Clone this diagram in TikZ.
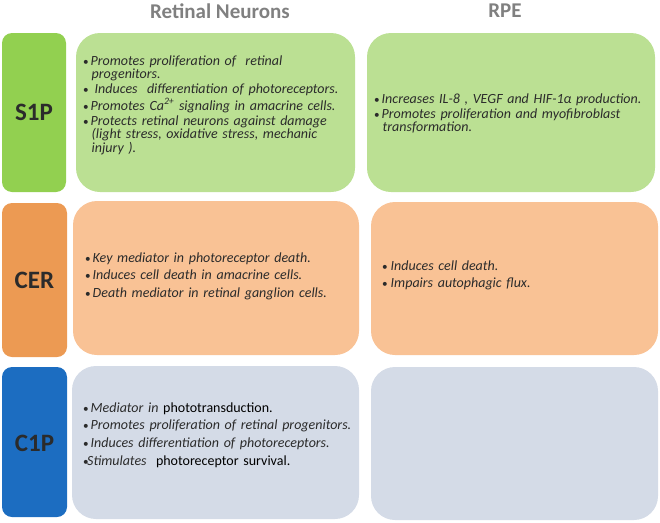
\documentclass[tikz,border=0pt]{standalone}
\usepackage{fontspec}
\setmainfont{Carlito}
\definecolor{hdrgray}{HTML}{808080}
\definecolor{txtdark}{HTML}{2B2B2B}
\definecolor{sgreen}{HTML}{92D050}
\definecolor{sgreenlt}{HTML}{BBE093}
\definecolor{corange}{HTML}{EC9A53}
\definecolor{corangelt}{HTML}{F9C295}
\definecolor{cblue}{HTML}{1C6DC1}
\definecolor{cbluelt}{HTML}{D4DBE7}
\newcommand{\bitem}[2][7.5pt]{\par\hangindent=8.5pt\hangafter=1\noindent\makebox[#1][l]{\upshape\scalebox{0.8}{\textbullet}}#2\par}
\begin{document}
\begin{tikzpicture}[x=1pt,y=-1pt,
  hdr/.style={font=\fontsize{21}{24}\selectfont\bfseries,text=hdrgray,inner sep=0pt},
  lbl/.style={font=\fontsize{25}{28}\selectfont\bfseries,text=txtdark,inner sep=0pt},
  bodyA/.style={font=\fontsize{14}{13.6}\selectfont\itshape\setlength{\parskip}{1.4pt},text=txtdark,align=left,inner sep=0pt,anchor=north west,text width=285pt},
  bodyB/.style={font=\fontsize{14}{17.8}\selectfont\itshape\setlength{\parskip}{0pt},text=txtdark,align=left,inner sep=0pt,anchor=north west,text width=285pt}
]
\useasboundingbox (0,0) rectangle (660,522);
% headers
\node[hdr] (hN) at (220,11) {Retinal Neurons};
\node[hdr] (hR) at (505,11) {RPE};
% S1P row
\fill[sgreen,rounded corners=10pt] (2,33) rectangle (66,192);
\node[lbl] (s1p) at (34,112) {S1P};
\fill[sgreenlt,rounded corners=24pt] (76,33) rectangle (355,192);
\fill[sgreenlt,rounded corners=24pt] (367,33) rectangle (655,192);
\node[bodyA] (s1pN) at (83,50) {%
\bitem{Promotes proliferation of\ \ retinal\newline progenitors.}
\bitem[11.5pt]{Induces\ \ differentiation of photoreceptors.}
\bitem{Promotes Ca\textsuperscript{2+} signaling in amacrine cells.}
\bitem{Protects retinal neurons against damage\newline (light stress, oxidative stress, mechanic\newline injury ).}};
\node[bodyA] (s1pR) at (374,88) {%
\bitem{Increases IL-8 , VEGF and HIF-1α production.}
\bitem{Promotes proliferation and myofibroblast\newline transformation.}};
% CER row
\fill[corange,rounded corners=10pt] (2,203) rectangle (67,357);
\node[lbl] (cer) at (34.5,280) {CER};
\fill[corangelt,rounded corners=24pt] (73,201) rectangle (359,355);
\fill[corangelt,rounded corners=24pt] (371,202) rectangle (658,355);
\node[bodyB] (cerN) at (85,244) {%
\bitem{Key mediator in photoreceptor death.}
\bitem{Induces cell death in amacrine cells.}
\bitem{Death mediator in retinal ganglion cells.}};
\node[bodyB] (cerR) at (382,252) {%
\bitem[8.5pt]{Induces cell death.}
\bitem[8.5pt]{Impairs autophagic flux.}};
% C1P row
\fill[cblue,rounded corners=10pt] (2,367) rectangle (67,517);
\node[lbl] (c1p) at (34.5,443) {C1P};
\fill[cbluelt,rounded corners=24pt] (72,366) rectangle (359,519);
\fill[cbluelt,rounded corners=24pt] (371,367) rectangle (658,520);
\node[bodyB] (c1pN) at (83,394) {%
\bitem{Mediator in {\upshape\color{black}phototransduction.}}
\bitem{Promotes proliferation of retinal progenitors.}
\bitem{Induces differentiation of photoreceptors.}
\bitem[4pt]{Stimulates\ \ {\upshape\color{black}photoreceptor survival.}}};
\end{tikzpicture}
\end{document}
